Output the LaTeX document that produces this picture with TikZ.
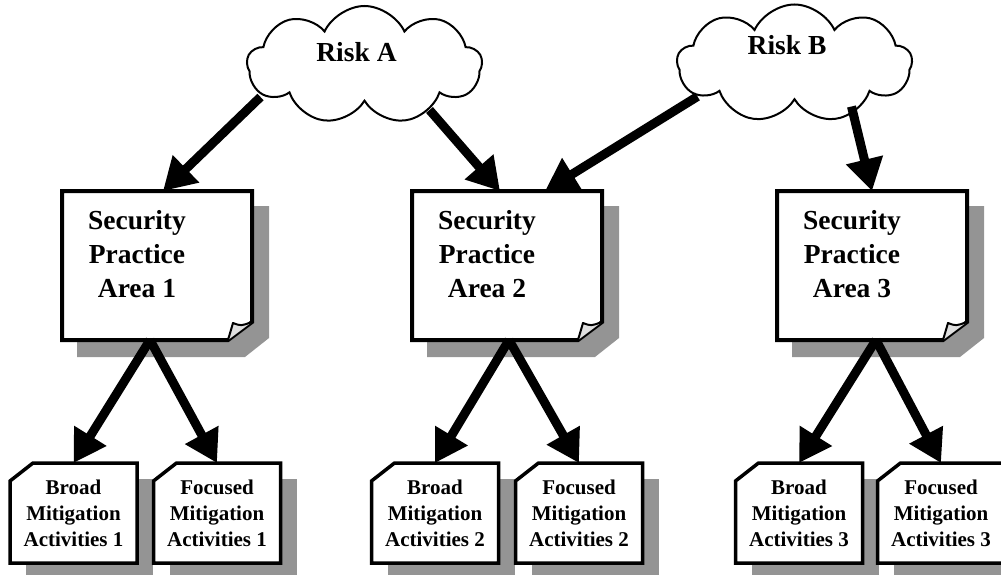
\documentclass[tikz,border=0pt]{standalone}
\usepackage{fontspec}
\setmainfont{Liberation Serif}
\usetikzlibrary{arrows.meta,shapes.symbols,backgrounds}
\tikzset{>/.tip={Triangle[length=32pt,width=36pt]}}
\newcommand{\areafont}{\fontsize{27.5}{34}\selectfont\bfseries}
\newcommand{\actfont}{\fontsize{21}{26}\selectfont\bfseries}

\begin{document}
\begin{tikzpicture}[x=1pt,y=-1pt,
  every node/.style={outer sep=0pt,inner sep=0pt},
  risk/.style={cloud,draw,line width=2pt,fill=white,cloud puffs=9,cloud puff arc=130,
    cloud ignores aspect,minimum width=235pt,minimum height=118pt},
  area/.style={rectangle,minimum width=190pt,minimum height=149pt},
  act/.style={rectangle,minimum width=127pt,minimum height=100pt,font=\actfont,align=center},
  shade/.style={fill=black!42},
  boxline/.style={draw,line width=4pt,line join=miter,fill=white},
  actline/.style={draw,line width=3.5pt,line join=miter,fill=white},
  flow/.style={->,line width=9pt}]
\useasboundingbox (0,0) rectangle (1001,575);
\node[risk,label={[font=\areafont,xshift=-8pt,yshift=13pt]center:Risk A}] (riskA) at (364.5,65) {};
\node[risk,label={[font=\areafont,xshift=-7.5pt,yshift=18pt]center:Risk B}] (riskB) at (794.5,63.5) {};
% practice areas
\foreach \i/\x in {1/157,2/507,3/872}
{
  \node[area,label={[font=\areafont,align=center,xshift=-20pt,yshift=11.5pt]center:Security\\Practice\\Area \i}] (sp\i) at (\x,265.5) {};
  \begin{scope}[on background layer]
    \fill[shade] ([shift={(15,15)}]sp\i.north west) -- ([shift={(17,15)}]sp\i.north east)
      -- ([shift={(17,-2)}]sp\i.south east) -- ([shift={(-7,17)}]sp\i.south east)
      -- ([shift={(15,17)}]sp\i.south west) -- cycle;
    \draw[boxline] (sp\i.north west) -- (sp\i.north east) -- ([shift={(0,-18)}]sp\i.south east)
      -- ([shift={(-24,0)}]sp\i.south east) -- (sp\i.south west) -- cycle;
    \draw[line width=2pt,fill=black!12,line join=round] ([shift={(-24,0)}]sp\i.south east)
      -- ([shift={(-19,-17)}]sp\i.south east) .. controls ([shift={(-11,-14)}]sp\i.south east) .. ([shift={(0,-18)}]sp\i.south east);
  \end{scope}
}
% mitigation activities
\foreach \i/\xb/\xf/\s in {1/73.5/217/-7,2/435/579/2,3/799/941/4}
{
  \node[act] (broad\i) at (\xb,513) {Broad\\Mitigation\\Activities \i};
  \node[act] (focus\i) at (\xf,513) {Focused\\Mitigation\\Activities \i};
  \begin{scope}[on background layer]
    \foreach \n in {broad\i,focus\i}
    {
      \fill[shade] ([shift={(16,16)}]\n.north west) rectangle ([shift={(16,16)}]\n.south east);
      \draw[actline] ([shift={(0,18)}]\n.north west) -- ([shift={(23,0)}]\n.north west)
        -- (\n.north east) -- (\n.south east) -- (\n.south west) -- cycle;
    }
  \end{scope}
  \draw[flow] ([xshift=\s pt]sp\i.south) -- (broad\i.north);
  \draw[flow] ([xshift=\s pt]sp\i.south) -- (focus\i.north);
}
\draw[flow] ([shift={(-104,32)}]riskA.center) -- ([xshift=6pt]sp1.north);
\draw[flow] ([shift={(65,45)}]riskA.center) -- ([xshift=-7pt]sp2.north);
\draw[flow] ([shift={(-97,33)}]riskB.center) -- ([xshift=38pt]sp2.north);
\draw[flow] ([shift={(57,43)}]riskB.center) -- (sp3.north);
\end{tikzpicture}
\end{document}
